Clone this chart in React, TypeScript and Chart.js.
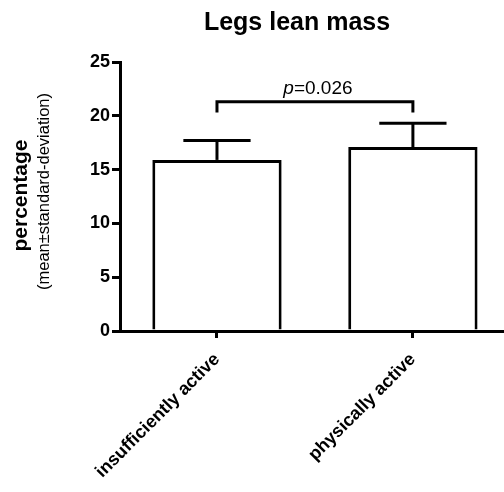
import React, { useEffect, useRef } from "react";
import { Chart, registerables } from "chart.js";

Chart.register(...registerables);

const categories = ["insufficiently active", "physically active"];
const means = [15.9, 17.1];
const sds = [1.8, 2.2];
const yTicks = [0, 5, 10, 15, 20, 25];
const pValue = "0.026";
const bracketLevel = 21.3;
const bracketLegEnd = 20.3;
const titleText = "Legs lean mass";
const yTitle = "percentage";
const ySubtitle = "(mean±standard-deviation)";

const FONT = "'Liberation Sans', Arial, Helvetica, sans-serif";

const overlay = {
  id: "overlay",
  afterDatasetsDraw(chart: any) {
    const { ctx } = chart;
    const y = chart.scales.y;
    const meta = chart.getDatasetMeta(0);
    ctx.save();
    ctx.strokeStyle = "#000";
    ctx.lineWidth = 3;
    ctx.lineCap = "butt";
    ctx.lineJoin = "miter";
    means.forEach((m, i) => {
      const bar = meta.data[i];
      const px = bar.x;
      const yM = y.getPixelForValue(m);
      const yT = y.getPixelForValue(m + sds[i]);
      const half = bar.width * 0.26;
      ctx.beginPath();
      ctx.moveTo(px, yM);
      ctx.lineTo(px, yT);
      ctx.stroke();
      ctx.beginPath();
      ctx.moveTo(px - half, yT);
      ctx.lineTo(px + half, yT);
      ctx.stroke();
    });
    const x1 = meta.data[0].x;
    const x2 = meta.data[1].x;
    const yb = y.getPixelForValue(bracketLevel);
    const yl = y.getPixelForValue(bracketLegEnd);
    ctx.beginPath();
    ctx.moveTo(x1, yl);
    ctx.lineTo(x1, yb);
    ctx.lineTo(x2, yb);
    ctx.lineTo(x2, yl);
    ctx.stroke();

    // p-value text
    const italic = `italic 19px ${FONT}`;
    const normal = `19px ${FONT}`;
    ctx.fillStyle = "#000";
    ctx.textBaseline = "alphabetic";
    ctx.textAlign = "left";
    ctx.font = italic;
    const wP = ctx.measureText("p").width;
    ctx.font = normal;
    const wRest = ctx.measureText("=" + pValue).width;
    const cx = (x1 + x2) / 2 + 3;
    const start = cx - (wP + wRest) / 2;
    const baseY = yb - 8;
    ctx.font = italic;
    ctx.fillText("p", start, baseY);
    ctx.font = normal;
    ctx.fillText("=" + pValue, start + wP, baseY);
    ctx.restore();
  },
  afterDraw(chart: any) {
    const { ctx, chartArea } = chart;
    ctx.save();
    ctx.fillStyle = "#000";
    // title
    ctx.font = `bold 25px ${FONT}`;
    ctx.textAlign = "center";
    ctx.textBaseline = "alphabetic";
    ctx.fillText(titleText, chartArea.left + 177, 30);
    // y axis titles
    const cy = (chartArea.top + chartArea.bottom) / 2;
    ctx.save();
    ctx.translate(27, cy - 1);
    ctx.rotate(-Math.PI / 2);
    ctx.font = `bold 21px ${FONT}`;
    ctx.textAlign = "center";
    ctx.fillText(yTitle, 0, 0);
    ctx.restore();
    ctx.save();
    ctx.translate(49, cy - 5);
    ctx.rotate(-Math.PI / 2);
    ctx.font = `16.5px ${FONT}`;
    ctx.textAlign = "center";
    ctx.fillText(ySubtitle, 0, 0);
    ctx.restore();
    ctx.restore();
  },
};

export default function App() {
  const ref = useRef<HTMLCanvasElement | null>(null);
  useEffect(() => {
    if (!ref.current) return;
    const chart = new Chart(ref.current, {
      type: "bar",
      data: {
        datasets: [
          {
            data: means.map((m, i) => ({ x: i + 1, y: m })),
            backgroundColor: "#ffffff",
            borderColor: "#000000",
            borderWidth: 3,
            borderSkipped: "start",
            barPercentage: 1,
            categoryPercentage: 0.66,
          },
        ],
      },
      options: {
        responsive: false,
        animation: false,
        devicePixelRatio: 1,
        layout: { padding: { top: 62, left: 0, right: 0, bottom: 0 } },
        plugins: {
          legend: { display: false },
          title: { display: false },
          tooltip: { enabled: false },
        },
        scales: {
          x: {
            type: "linear",
            offset: false,
            min: 0.505,
            max: 2.465,
            afterBuildTicks(scale: any) {
              scale.ticks = categories.map((_, i) => ({ value: i + 1 }));
            },
            afterFit(scale: any) {
              scale.height = 161;
            },
            ticks: {
              autoSkip: false,
              minRotation: 45,
              maxRotation: 45,
              padding: 11,
              color: "#000",
              font: { family: FONT, size: 18, weight: "bold" },
              callback: (v: any) => categories[Math.round(Number(v)) - 1] ?? "",
            },
            grid: {
              display: true,
              offset: false,
              drawOnChartArea: false,
              drawTicks: true,
              tickLength: 7,
              lineWidth: 3,
              color: "#000",
            },
            border: { display: true, width: 3, color: "#000" },
          },
          y: {
            min: 0,
            max: 25,
            afterBuildTicks(scale: any) {
              scale.ticks = yTicks.map((v) => ({ value: v }));
            },
            afterFit(scale: any) {
              scale.width = 120;
            },
            ticks: {
              padding: 2,
              color: "#000",
              font: { family: FONT, size: 18, weight: "bold" },
            },
            grid: {
              display: true,
              drawOnChartArea: false,
              drawTicks: true,
              tickLength: 8,
              lineWidth: 3,
              color: "#000",
            },
            border: { display: true, width: 3, color: "#000" },
          },
        },
      },
      plugins: [overlay],
    } as any);
    return () => chart.destroy();
  }, []);
  return (
    <div style={{ position: "fixed", left: 0, top: 0, width: 504, height: 492, background: "#fff" }}>
      <canvas ref={ref} width={504} height={492} style={{ width: 504, height: 492, display: "block" }} />
    </div>
  );
}
